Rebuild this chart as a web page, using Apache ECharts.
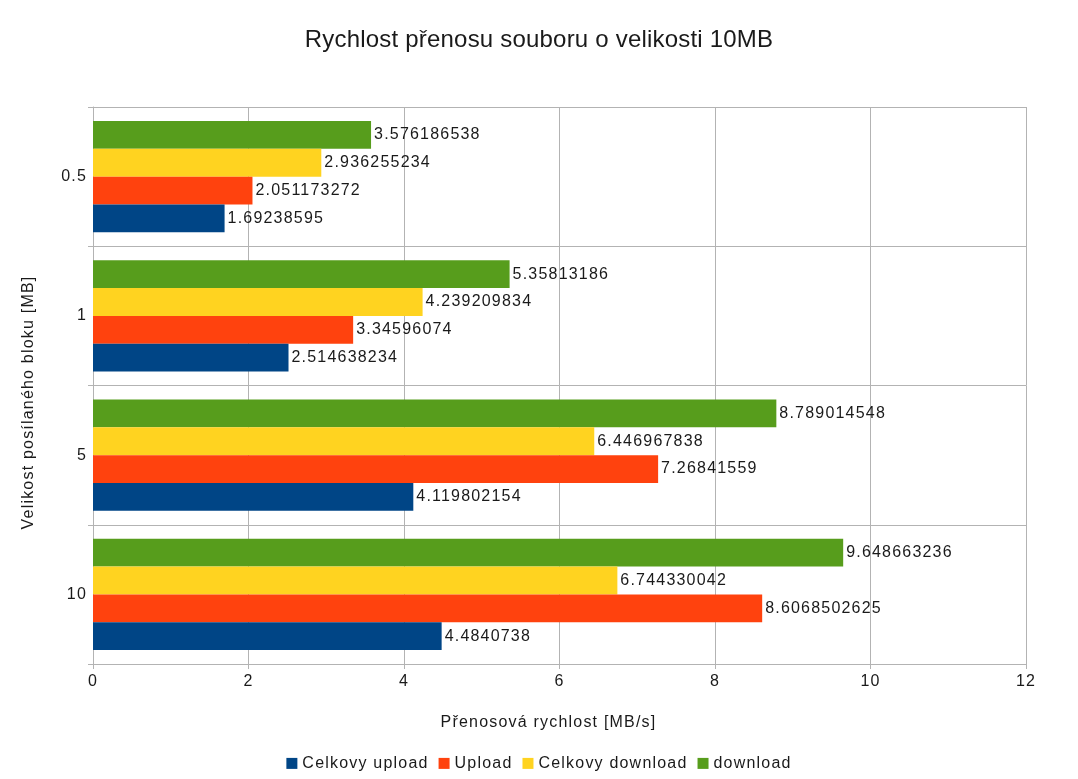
<!DOCTYPE html>
<html>
<head>
<meta charset="utf-8">
<script src="https://cdn.jsdelivr.net/npm/echarts@6/dist/echarts.min.js"></script>
<style>html,body{margin:0;padding:0;background:#fff}#c{width:1078px;height:779px}</style>
</head>
<body>
<div id="c"></div>
<script>
const categories = ['0.5', '1', '5', '10'];
const celkovyUpload = [1.69238595, 2.514638234, 4.119802154, 4.4840738];
const upload = [2.051173272, 3.34596074, 7.26841559, 8.6068502625];
const celkovyDownload = [2.936255234, 4.239209834, 6.446967838, 6.744330042];
const download = [3.576186538, 5.35813186, 8.789014548, 9.648663236];
const xTicks = [0, 2, 4, 6, 8, 10, 12];
const seriesNames = ['Celkovy upload', 'Upload', 'Celkovy download', 'download'];

// Wider glyph spacing, as in the reference's text rendering
(function () {
  const proto = CanvasRenderingContext2D.prototype;
  const desc = Object.getOwnPropertyDescriptor(proto, 'font');
  if (!desc || !('letterSpacing' in proto)) return;
  Object.defineProperty(proto, 'font', {
    configurable: true,
    get() { return desc.get.call(this); },
    set(v) {
      desc.set.call(this, v);
      const m = /(\d+(?:\.\d+)?)px/.exec(v);
      const s = m ? parseFloat(m[1]) : 12;
      this.letterSpacing = (s >= 20 ? 0.2 : 1.2) + 'px';
    }
  });
})();

const seriesDefs = [
  [seriesNames[0], celkovyUpload, '#004586'],
  [seriesNames[1], upload, '#ff420e'],
  [seriesNames[2], celkovyDownload, '#ffd320'],
  [seriesNames[3], download, '#579d1c']
];
const font = 'Liberation Sans';
const txt = '#1a1a1a';
const chart = echarts.init(document.getElementById('c'));
chart.setOption({
  animation: false,
  title: {
    text: 'Rychlost přenosu souboru o velikosti 10MB',
    left: 'center', top: 23,
    textStyle: { fontFamily: font, fontSize: 24, fontWeight: 'normal', color: txt }
  },
  legend: {
    bottom: 2, left: 'center', itemWidth: 11, itemHeight: 11, itemGap: 10,
    icon: 'rect',
    textStyle: { fontFamily: font, fontSize: 16, color: txt },
    data: seriesNames
  },
  grid: { left: 93, right: 52, top: 107, bottom: 115, containLabel: false },
  xAxis: {
    type: 'value', min: 0, max: 12, interval: 2,
    name: 'Přenosová rychlost [MB/s]', nameLocation: 'middle', nameGap: 50,
    nameTextStyle: { fontFamily: font, fontSize: 16, color: txt, padding: [0, 22, 0, 0] },
    axisLine: { show: true, lineStyle: { color: '#b3b3b3' } },
    axisTick: { show: true, length: 5, lineStyle: { color: '#b3b3b3' } },
    axisLabel: { fontFamily: font, fontSize: 16, color: txt, margin: 9,
      formatter: v => xTicks.includes(v) ? String(v) : '' },
    splitLine: { show: true, lineStyle: { color: '#b3b3b3' } }
  },
  yAxis: {
    type: 'category', data: categories, inverse: true,
    name: 'Velikost posílaného bloku [MB]', nameLocation: 'middle', nameGap: 56,
    nameRotate: 90,
    nameTextStyle: { fontFamily: font, fontSize: 16, color: txt, padding: [0, 34, 0, 0] },
    axisLine: { show: true, lineStyle: { color: '#b3b3b3' } },
    axisTick: { show: true, length: 5, lineStyle: { color: '#b3b3b3' } },
    axisLabel: { fontFamily: font, fontSize: 16, color: txt, margin: 6 },
    splitLine: { show: true, lineStyle: { color: '#b3b3b3' } }
  },
  // reversed so the first legend entry sits at the bottom of each group
  series: seriesDefs.slice().reverse().map(([name, data, color]) => ({
    name, type: 'bar', data,
    barGap: 0, barCategoryGap: '20%',
    itemStyle: { color },
    label: { show: true, position: 'right', distance: 3,
      fontFamily: font, fontSize: 16, color: txt,
      formatter: p => String(p.value) }
  }))
});
</script>
</body>
</html>
